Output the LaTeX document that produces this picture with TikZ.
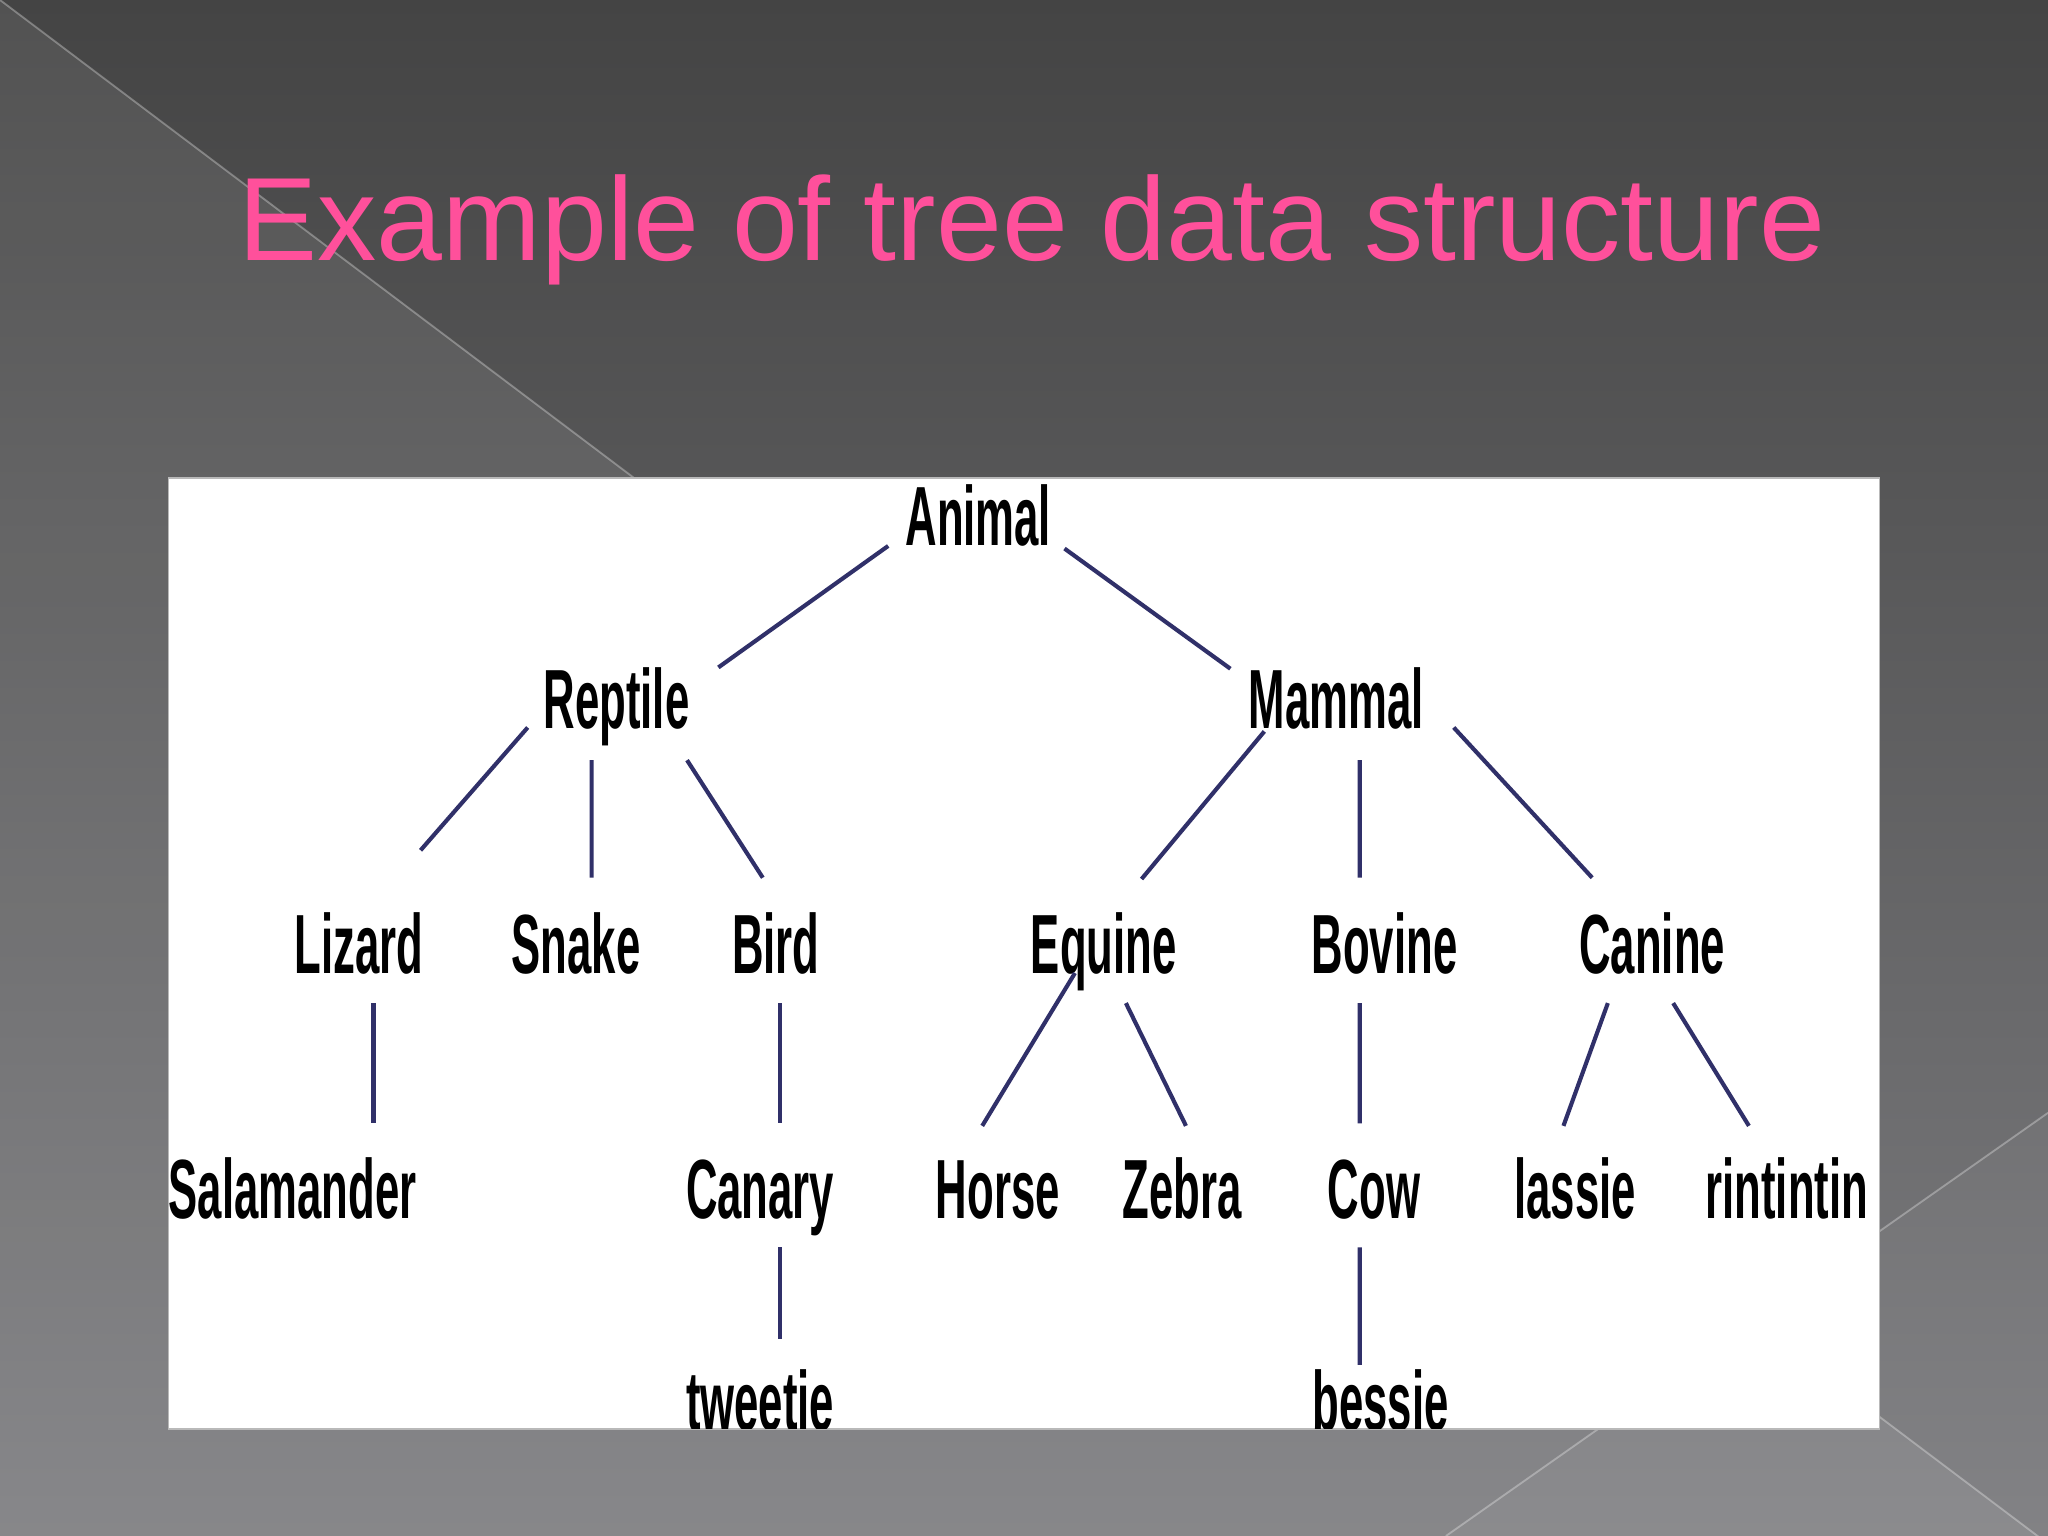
\documentclass[tikz,border=0pt]{standalone}
\usepackage{fontspec}
\setmainfont{Liberation Sans}
\newfontfamily\treefont{Liberation Sans}[FakeStretch=0.52]
\usepackage{xcolor}
\usepackage{tikz}
\usetikzlibrary{calc}
\definecolor{slidetop}{RGB}{68,68,68}
\definecolor{slidemid}{RGB}{84,84,86}
\definecolor{slidebot}{RGB}{125,125,128}
\definecolor{titlepink}{RGB}{255,80,155}
\definecolor{twig}{RGB}{48,48,105}
\tikzset{
    headline/.style={font=\fontsize{25.8}{30}\selectfont, text=titlepink, inner sep=0pt, text height=18.5pt, text depth=0pt},
    taxon/.style={font=\treefont\bfseries\fontsize{18.3}{20}\selectfont, inner sep=0pt, text height=13.1pt, text depth=0pt},
    branch/.style={draw=twig, line width=0.9pt},
    panel/.style={fill=white, draw=gray!55, line width=0.4pt},
    facet/.style={fill=white, fill opacity=0.08},
    seam/.style={draw=white, draw opacity=0.3, line width=0.4pt},
}

\begin{document}
\begin{tikzpicture}
    \useasboundingbox (0,0) rectangle (15.68,-11.76);
    % slide background
    \fill[top color=slidetop, middle color=slidemid, bottom color=slidebot] (0,0) rectangle (15.68,-11.76);
    \fill[facet] (0,0) -- (15.68,-11.82) -- (0,-11.76) -- cycle;
    \fill[facet, fill opacity=0.04] (15.68,-8.52) -- (15.68,-11.76) -- (11.07,-11.76) -- cycle;
    \draw[seam] (0,0) -- (15.68,-11.82);
    \draw[seam] (15.68,-8.52) -- (11.07,-11.76);

    \node[headline] (title) at (7.90,-1.67) {Example of tree data structure};

    \draw[panel] (1.29,-3.66) rectangle (14.39,-10.94);

    \begin{scope}
        \clip (1.29,-3.66) rectangle (14.39,-10.94);
        \node[taxon] (animal) at (7.49,-3.95) {Animal};
        \node[taxon] (reptile) at (4.72,-5.35) {Reptile};
        \node[taxon] (mammal) at (10.23,-5.35) {Mammal};
        \node[taxon] (lizard) at (2.75,-7.22) {Lizard};
        \node[taxon] (snake) at (4.41,-7.22) {Snake};
        \node[taxon] (bird) at (5.94,-7.22) {Bird};
        \node[taxon] (equine) at (8.45,-7.22) {Equine};
        \node[taxon] (bovine) at (10.60,-7.22) {Bovine};
        \node[taxon] (canine) at (12.65,-7.22) {Canine};
        \node[taxon] (salamander) at (2.24,-9.10) {Salamander};
        \node[taxon] (canary) at (5.82,-9.10) {Canary};
        \node[taxon] (horse) at (7.64,-9.10) {Horse};
        \node[taxon] (zebra) at (9.05,-9.10) {Zebra};
        \node[taxon] (cow) at (10.52,-9.10) {Cow};
        \node[taxon] (lassie) at (12.06,-9.10) {lassie};
        \node[taxon] (rintin) at (13.68,-9.10) {rintintin};
        \node[taxon] (tweetie) at (5.82,-10.72) {tweetie};
        \node[taxon] (bessie) at (10.57,-10.72) {bessie};

        % branches
        \draw[branch] ($(animal)+(-0.69,-0.23)$) -- ($(reptile)+(0.78,0.24)$);
        \draw[branch] ($(animal)+(0.66,-0.25)$) -- ($(mammal)+(-0.81,0.23)$);
        \draw[branch] ($(reptile)+(-0.68,-0.22)$) -- ($(lizard)+(0.47,0.71)$);
        \draw[branch] ($(reptile)+(-0.19,-0.47)$) -- ($(snake)+(0.12,0.50)$);
        \draw[branch] ($(reptile)+(0.54,-0.47)$) -- ($(bird)+(-0.10,0.50)$);
        \draw[branch] ($(mammal)+(-0.55,-0.25)$) -- ($(equine)+(0.29,0.49)$);
        \draw[branch] ($(mammal)+(0.18,-0.47)$) -- ($(bovine)+(-0.19,0.50)$);
        \draw[branch] ($(mammal)+(0.90,-0.22)$) -- ($(canine)+(-0.46,0.50)$);
        \draw[branch] ($(lizard)+(0.11,-0.46)$) -- ($(salamander)+(0.62,0.50)$);
        \draw[branch] ($(bird)+(0.03,-0.46)$) -- ($(canary)+(0.15,0.50)$);
        \draw[branch] ($(equine)+(-0.22,-0.23)$) -- ($(horse)+(-0.12,0.48)$);
        \draw[branch] ($(equine)+(0.17,-0.46)$) -- ($(zebra)+(0.03,0.48)$);
        \draw[branch] ($(bovine)+(-0.19,-0.46)$) -- ($(cow)+(-0.11,0.50)$);
        \draw[branch] ($(canine)+(-0.34,-0.46)$) -- ($(lassie)+(-0.09,0.48)$);
        \draw[branch] ($(canine)+(0.16,-0.46)$) -- ($(rintin)+(-0.29,0.48)$);
        \draw[branch] ($(canary)+(0.15,-0.45)$) -- ($(tweetie)+(0.15,0.47)$);
        \draw[branch] ($(cow)+(-0.11,-0.45)$) -- ($(bessie)+(-0.16,0.27)$);
    \end{scope}
\end{tikzpicture}
\end{document}
